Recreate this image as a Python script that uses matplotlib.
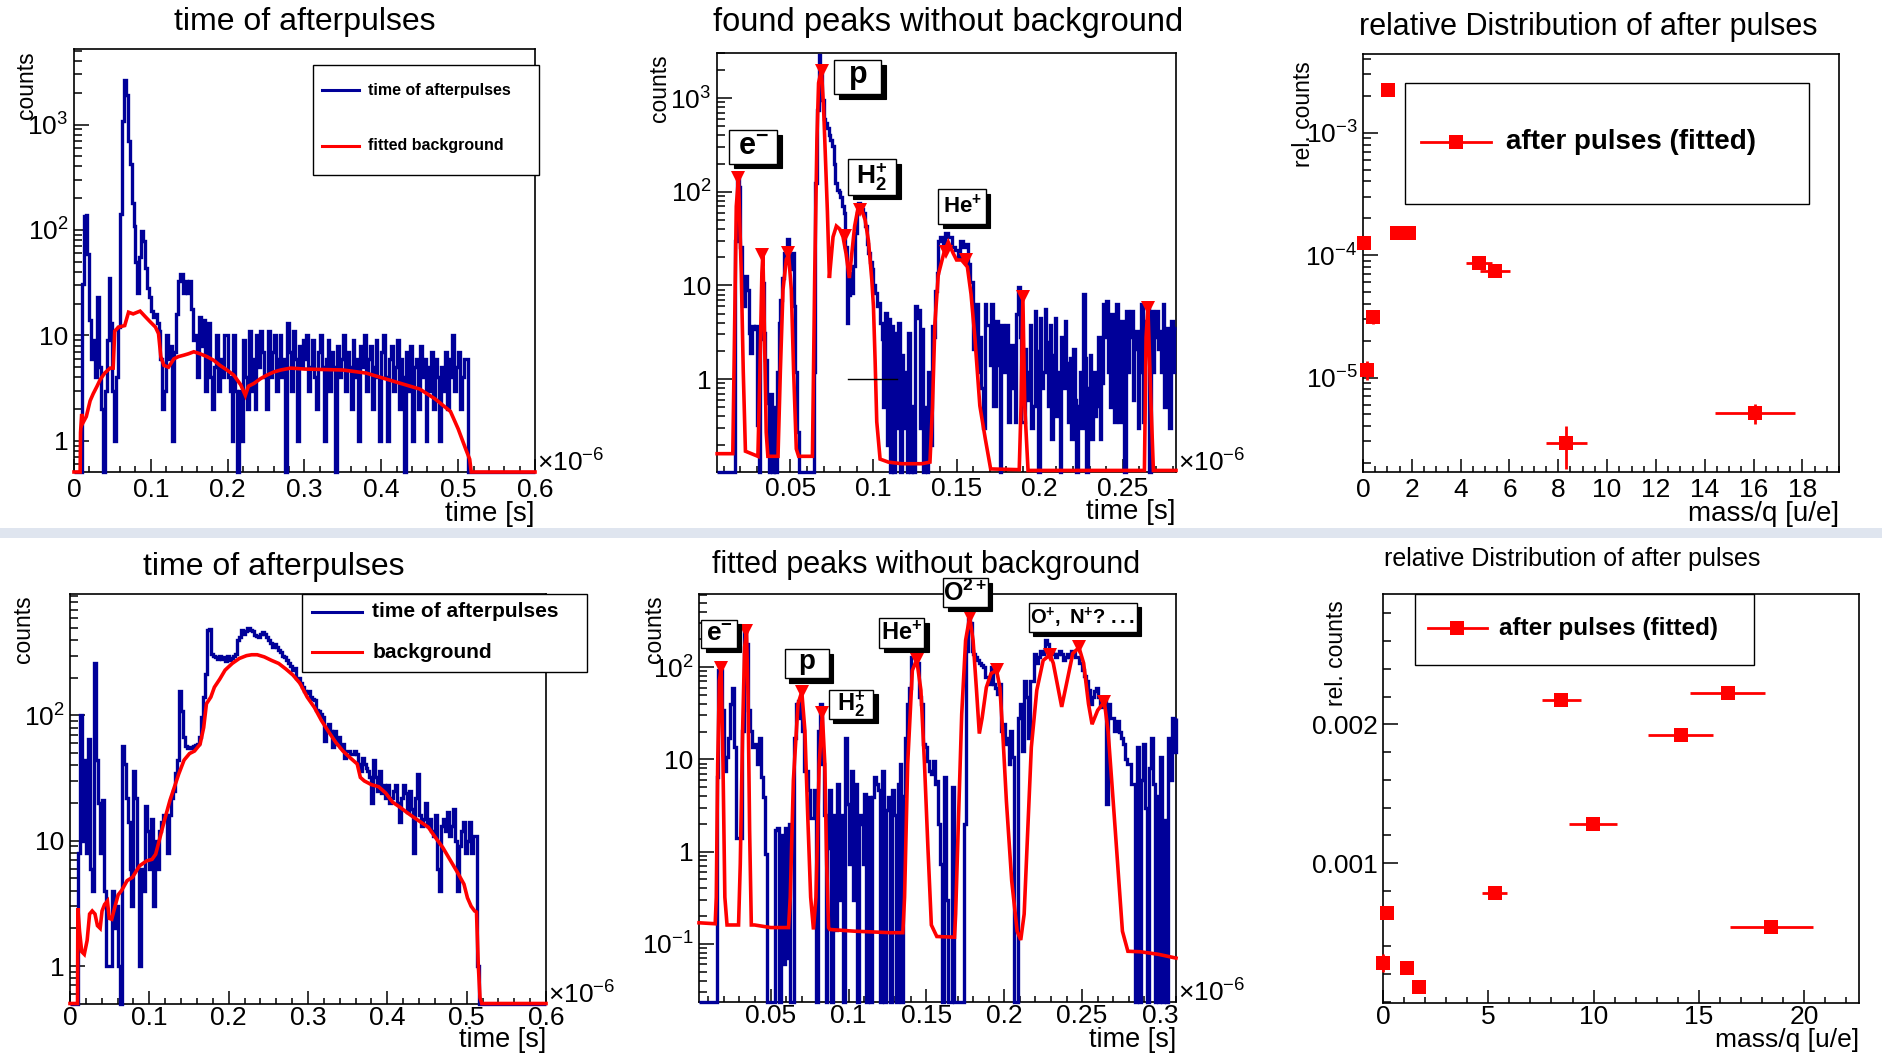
import numpy as np
import matplotlib
matplotlib.use("Agg")
import matplotlib.pyplot as plt
from matplotlib.patches import Rectangle
from matplotlib.lines import Line2D
from matplotlib.ticker import (FuncFormatter, LogLocator, MultipleLocator,
                               FixedLocator, NullFormatter)

plt.rcParams["font.family"] = ["Liberation Sans", "DejaVu Sans"]
plt.rcParams["mathtext.fontset"] = "custom"
plt.rcParams["mathtext.rm"] = "Liberation Sans"
plt.rcParams["mathtext.it"] = "Liberation Sans:italic"
plt.rcParams["mathtext.bf"] = "Liberation Sans:bold"

HIST_BLUE = "#000099"
FIT_RED = "#ff0000"

# ---------------------------------------------------------------- data
# Run A: arrival time of afterpulses, time in units of 1e-6 s, 0.0025 wide bins from 0
runA_t0, runA_dt = 0.0, 0.0025
runA_counts = [
    0, 0, 0, 0, 31, 136, 140, 59, 14, 6,
    9, 4, 23, 5, 2, 0, 3, 9, 35, 13,
    3, 1, 4, 12, 141, 1080, 2670, 1900, 700, 420,
    180, 110, 50, 25, 55, 98, 79, 44, 28, 23,
    17, 15, 16, 13, 11, 6, 2, 3, 10, 6,
    8, 1, 7, 16, 33, 38, 38, 25, 33, 25,
    33, 18, 9, 10, 4, 15, 8, 14, 3, 9,
    13, 4, 2, 5, 10, 3, 6, 4, 10, 10,
    4, 3, 1, 10, 3, 0, 3, 1, 9, 4,
    2, 11, 3, 6, 2, 10, 5, 11, 7, 4,
    2, 11, 4, 7, 10, 3, 6, 10, 4, 6,
    0, 13, 7, 3, 11, 6, 1, 8, 5, 9,
    6, 10, 3, 5, 9, 4, 2, 7, 10, 5,
    1, 6, 9, 3, 7, 5, 0, 8, 4, 6,
    10, 3, 7, 5, 2, 9, 4, 6, 1, 8,
    5, 10, 3, 6, 8, 2, 5, 9, 4, 1,
    7, 10, 4, 1, 6, 8, 3, 5, 9, 2,
    6, 4, 0, 7, 3, 8, 1, 5, 6, 2,
    8, 4, 6, 1, 5, 3, 7, 2, 6, 4,
    1, 5, 3, 7, 2, 6, 4, 10, 3, 5,
    7, 2, 4, 6, 6, 0,
]
runA_bkg_t = [0.0, 0.008, 0.0085, 0.010, 0.012, 0.016, 0.021, 0.025, 0.030, 0.034,
              0.040, 0.047, 0.051, 0.053, 0.058, 0.066, 0.071, 0.077, 0.086, 0.093,
              0.099, 0.106, 0.110, 0.113, 0.117, 0.123, 0.130, 0.136, 0.143, 0.149,
              0.156, 0.164, 0.173, 0.182, 0.190, 0.199, 0.208, 0.217, 0.223, 0.227,
              0.234, 0.243, 0.251, 0.260, 0.269, 0.282, 0.300, 0.350, 0.380, 0.420,
              0.450, 0.470, 0.490, 0.500, 0.510, 0.515, 0.517, 0.600]
runA_bkg = [0, 0, 1.2, 1.8, 1.5, 1.7, 2.4, 2.8, 3.3, 3.8,
            4.4, 4.9, 4.9, 11, 12, 12.4, 16.6, 16, 17, 15,
            13.5, 12, 10.4, 6.3, 5.2, 5.0, 6.0, 6.3, 6.5, 6.7,
            7.0, 6.7, 6.3, 5.8, 5.2, 4.7, 4.2, 3.4, 2.7, 3.3,
            3.5, 3.9, 4.2, 4.5, 4.7, 4.9, 4.8, 4.7, 4.4, 3.6,
            3.1, 2.5, 1.9, 1.3, 0.83, 0.67, 0, 0]

# Run A: peaks after background subtraction, 0.001 wide bins from 0.006
runA_sig_t0, runA_sig_dt = 0.006, 0.001
runA_signal = [
    0, 0, 0, 0, 0, 0, 0, 0, 0, 0,
    0, 30, 150, 113, 26, 6, 6, 12.6, 9, 3.1,
    1.9, 3.7, 3.4, 3.7, 0.32, 0, 2.7, 10.6, 3.1, 1.6,
    0.56, 0, 0.7, 0, 0.5, 0, 1.2, 4, 7, 12,
    22, 18, 31, 19, 15, 22, 6, 1.2, 0.27, 0,
    0, 0, 0, 0, 0, 0, 0, 0, 1.2, 123,
    740, 2900, 1800, 950, 600, 540, 480, 400, 360, 305,
    200, 123, 105, 100, 89, 70, 59, 26, 4, 8,
    13.5, 8.4, 16, 36, 60, 76, 70, 65, 59, 43,
    28, 22, 18, 15, 10, 8.4, 6, 6.5, 4, 2.7,
    0.5, 5.1, 0.2, 4.4, 0, 3.7, 0, 3.1, 0.3, 4,
    0, 1.8, 0.3, 1.2, 0, 3.1, 0, 0.52, 0, 6,
    4.5, 5.5, 0.3, 3.4, 0, 0.5, 0, 1.2, 0.2, 3.7,
    2.8, 8.8, 13.6, 30, 33, 33, 28, 36, 36, 33,
    33, 26, 26, 24, 24, 20, 30, 30, 26, 28,
    28, 17, 11, 11, 2.1, 6.3, 6.3, 1.2, 2.8, 0.8,
    0.3, 6.3, 3.8, 3.8, 1.4, 6.3, 0.52, 0.52, 4.2, 1.4,
    0, 3.8, 1.2, 2.3, 3.8, 0.35, 1.2, 2.3, 0.8, 0.35,
    5, 9.6, 2.8, 0.35, 0.35, 2.1, 0.6, 1.2, 3.8, 0.3,
    0.52, 5.4, 2, 0, 4.5, 0.8, 1.2, 5.6, 2.5, 0.52,
    3.8, 0.23, 1.8, 4.5, 0.4, 1.2, 0, 2.8, 0.8, 4.2,
    1.5, 0.35, 1.7, 0.23, 2.1, 0.6, 0, 0.52, 1.2, 0.3,
    8.1, 1.7, 0, 0.8, 1.8, 0.23, 1.2, 0.4, 0.52, 2.8,
    0.23, 0.9, 6.3, 2.8, 6.9, 1.2, 0.5, 4.9, 1.2, 0.35,
    6.3, 2, 0.35, 4.2, 2.8, 0, 5.4, 1.2, 2.8, 5.4,
    0.6, 2.1, 3.3, 0.3, 1.2, 6.3, 0.35, 4.2, 2.8, 6,
    0, 5.4, 1.2, 2.8, 5.4, 2.1, 3.3, 1.2, 6.3, 0.5,
    3.5, 2.1, 0.3, 4.2, 1.2, 3.5,
]
runA_fit_t = [0.006, 0.0154, 0.0164, 0.0175, 0.0188, 0.0205, 0.0217, 0.023, 0.0305, 0.0317,
              0.0329, 0.0335, 0.0345, 0.0355, 0.0365, 0.0426, 0.044, 0.0456, 0.0476, 0.049,
              0.0506, 0.052, 0.0536, 0.055, 0.0633, 0.0647, 0.066, 0.067, 0.0687, 0.070,
              0.0711, 0.0723, 0.0735, 0.0745, 0.0757, 0.0777, 0.0797, 0.0817, 0.0835, 0.0855,
              0.0870, 0.0887, 0.0908, 0.0925, 0.095, 0.097, 0.099, 0.100, 0.101, 0.102,
              0.104, 0.109, 0.117, 0.129, 0.134, 0.1355, 0.137, 0.139, 0.1426, 0.145,
              0.148, 0.150, 0.153, 0.1565, 0.1587, 0.161, 0.164, 0.1673, 0.1705, 0.1877,
              0.1888, 0.1899, 0.191, 0.193, 0.263, 0.264, 0.2651, 0.267, 0.2684, 0.282]
runA_fit = [0.16, 0.16, 2.7, 70, 140, 13.6, 1.2, 0.17, 0.15, 1.2,
            13.6, 22, 2.7, 0.27, 0.15, 0.15, 1.2, 9, 19, 21,
            9, 1.2, 0.18, 0.15, 0.15, 13.6, 360, 1450, 2000, 800,
            237, 62, 12, 19, 33, 43, 40, 33, 22, 12,
            22, 43, 68, 68, 50, 30, 11.6, 6, 1.6, 0.35,
            0.14, 0.13, 0.125, 0.125, 0.13, 0.5, 4, 13, 23, 29,
            22, 18.7, 18.7, 15.8, 8.1, 2.8, 0.52, 0.23, 0.11, 0.108,
            0.52, 7.5, 0.52, 0.106, 0.106, 2.8, 5.8, 0.52, 0.106, 0.106]
runA_peak_t = [0.0187, 0.0327, 0.0484, 0.0689, 0.0829, 0.0922, 0.1436, 0.1555, 0.1899, 0.265]
runA_peak_h = [140, 21, 22, 1950, 34, 64, 23, 18.6, 7.5, 5.8]

# Run A: relative afterpulse yield versus mass over charge
runA_mq = [1.04, 1.38, 1.87, 0.03, 4.75, 5.42, 0.39, 0.15, 8.33, 16.05]
runA_rel = [2.24e-3, 1.53e-4, 1.53e-4, 1.26e-4, 8.7e-5, 7.36e-5, 3.14e-5, 1.16e-5, 2.89e-6, 5.13e-6]
runA_mq_err = [0, 0, 0, 0, 0.54, 0.62, 0.1, 0.05, 0.84, 1.64]
runA_rel_err = [0, 0, 0, 0, 0, 0, 0.41e-5, 0.21e-5, 1.1e-6, 0.97e-6]

# Run B: arrival time of afterpulses, 0.0025 wide bins from 0
runB_t0, runB_dt = 0.0, 0.0025
runB_counts = [
    0, 0, 0, 0, 8, 100, 10, 44, 8, 65,
    6, 4, 260, 44, 20, 8, 21, 4, 1, 1,
    1, 4, 2, 3, 1, 0, 57, 41, 22, 14,
    6, 3, 36, 22, 6, 1, 6, 4, 19, 12,
    6, 15, 3, 10, 6, 12, 14, 16, 16, 8,
    16, 22, 25, 35, 44, 158, 109, 67, 57, 55,
    56, 55, 57, 58, 59, 67, 97, 140, 215, 480,
    490, 310, 300, 290, 280, 300, 280, 290, 270, 300,
    275, 285, 300, 310, 400, 420, 480, 450, 470, 500,
    500, 480, 470, 440, 430, 420, 450, 460, 450, 420,
    400, 380, 350, 370, 350, 330, 320, 300, 290, 275,
    260, 250, 230, 240, 200, 200, 180, 170, 158, 150,
    158, 140, 135, 132, 110, 108, 103, 97, 63, 75,
    86, 75, 56, 75, 59, 67, 56, 59, 46, 52,
    52, 49, 49, 52, 49, 41, 36, 46, 41, 38,
    36, 32, 20, 44, 32, 25, 36, 24, 28, 22,
    28, 20, 22, 25, 28, 20, 14, 22, 28, 24,
    17, 25, 18, 8, 22, 34, 16, 13, 15, 20,
    13, 15, 12, 11, 16, 6, 4, 13, 15, 12,
    17, 11, 13, 18, 10, 4, 9, 12, 14, 8,
    10, 14, 8, 11, 11, 1,
]
runB_bkg_t = [0.0, 0.0095, 0.0099, 0.012, 0.0148, 0.018, 0.0216, 0.0247, 0.028, 0.0315,
              0.0346, 0.038, 0.0404, 0.0436, 0.0472, 0.0494, 0.0526, 0.0562, 0.0607, 0.065,
              0.072, 0.0787, 0.0876, 0.0966, 0.1034, 0.108, 0.1124, 0.119, 0.126, 0.1326,
              0.137, 0.1438, 0.1506, 0.157, 0.164, 0.1685, 0.172, 0.1775, 0.182, 0.1888,
              0.1955, 0.2045, 0.2135, 0.2225, 0.229, 0.236, 0.245, 0.254, 0.263, 0.272,
              0.281, 0.29, 0.299, 0.308, 0.317, 0.326, 0.335, 0.344, 0.353, 0.362,
              0.366, 0.371, 0.38, 0.389, 0.398, 0.4067, 0.416, 0.4247, 0.4337, 0.4427,
              0.4517, 0.4607, 0.47, 0.4787, 0.4876, 0.4966, 0.501, 0.5056, 0.51, 0.5124,
              0.5146, 0.5168, 0.519, 0.6]
runB_bkg = [0, 0, 2.9, 1.9, 1.3, 1.24, 1.6, 2.6, 2.75, 2.6,
            2.1, 2.0, 2.75, 3.1, 3.3, 2.4, 2.36, 2.9, 3.7, 4.0,
            4.8, 5.1, 6.3, 6.9, 7.1, 7.8, 10, 14.5, 21, 28,
            34, 44, 49.6, 52, 59, 80, 124, 140, 168, 195,
            230, 260, 285, 300, 305, 305, 293, 275, 260, 235,
            210, 180, 140, 116, 91, 74, 61, 52, 46, 41,
            32, 30, 28, 27, 24, 20.3, 18.5, 16.8, 15.3, 14,
            12.8, 10.6, 8.8, 7.1, 5.7, 4.5, 3.5, 3.0, 2.75, 2.7,
            1.03, 0.56, 0, 0]

# Run B: peaks after background subtraction, 0.00125 wide bins from 0.004
runB_sig_t0, runB_sig_dt = 0.004, 0.00125
runB_signal = [
    0, 0, 0, 0, 0, 0, 0, 0, 0, 6.4,
    92, 92, 34, 7.5, 10.5, 17, 40, 60, 13.5, 1.4,
    1.4, 1.4, 20.5, 250, 180, 34, 20.5, 13.5, 13.5, 14.6,
    8.9, 17, 6.4, 3.9, 0.94, 0, 0, 0, 0, 1.7,
    1.8, 0, 1.5, 0.06, 1.8, 0.07, 2.0, 0, 0, 17,
    40, 43, 28, 20.5, 7.5, 7.5, 4.6, 2.3, 2.3, 4.6,
    0, 20.5, 40, 8.9, 2.5, 0, 1.1, 4.6, 0, 2.5,
    0.14, 5.4, 0.3, 2.5, 0, 17, 3.3, 0.73, 7.5, 0.3,
    5.4, 0, 2.5, 2.0, 0.73, 4.2, 0, 3.9, 0, 3.9,
    6.4, 5.4, 4.6, 0, 7.5, 0, 2.8, 3.9, 0, 4.6,
    2.5, 0, 5.4, 8.9, 0, 4, 17, 40, 60, 128,
    128, 128, 110, 47, 40, 14.6, 13.5, 9.7, 7.5, 6.9,
    9.7, 5.4, 5.8, 2.0, 0.73, 0, 6.4, 0.3, 0, 0,
    5, 0, 0, 0, 0, 0, 2.0, 150, 330, 300,
    150, 140, 128, 120, 110, 105, 99, 78, 78, 66,
    99, 66, 60, 51, 66, 20.5, 24, 14.6, 17, 8.9,
    20.5, 10.5, 0, 0, 28, 40, 12.4, 71, 47, 17,
    71, 71, 139, 110, 128, 150, 139, 150, 195, 180,
    150, 150, 139, 128, 139, 150, 139, 120, 128, 139,
    128, 150, 150, 128, 128, 110, 110, 92, 80, 71,
    56, 40, 47, 55, 60, 47, 37, 47, 47, 3.3,
    40, 28, 28, 20.5, 26, 26, 20, 17, 14.6, 10,
    8.9, 8.9, 5.4, 5.4, 0, 13.5, 0, 6, 14.6, 3,
    0, 8, 17, 5.4, 0, 4, 0, 10.5, 0, 2.2,
    0, 17, 6, 28, 12, 28,
]
runB_fit_t = [0.004, 0.0144, 0.0151, 0.0160, 0.0171, 0.0182, 0.0194, 0.0206, 0.022, 0.0294,
              0.0305, 0.0320, 0.0333, 0.0345, 0.0355, 0.0365, 0.0376, 0.0397, 0.05, 0.0615,
              0.0626, 0.0646, 0.0676, 0.0700, 0.0720, 0.0738, 0.0757, 0.0775, 0.0791, 0.0812,
              0.0832, 0.0848, 0.0860, 0.0872, 0.088, 0.1039, 0.1268, 0.1349, 0.136, 0.138,
              0.141, 0.1438, 0.1465, 0.1488, 0.151, 0.1532, 0.1567, 0.1681, 0.1688, 0.1704,
              0.1727, 0.1752, 0.1778, 0.180, 0.1822, 0.1840, 0.1858, 0.1885, 0.1915, 0.1951,
              0.1972, 0.1990, 0.2014, 0.2048, 0.2083, 0.2106, 0.2128, 0.2151, 0.2174, 0.2209,
              0.2250, 0.2294, 0.2315, 0.2345, 0.2369, 0.2404, 0.2440, 0.248, 0.2510, 0.2541,
              0.2564, 0.2600, 0.2643, 0.2667, 0.269, 0.2713, 0.2736, 0.2759, 0.2794, 0.2874,
              0.2989, 0.3103]
runB_fit = [0.169, 0.165, 0.32, 8.9, 71, 98, 8.9, 0.32, 0.16, 0.16,
            0.73, 20.5, 165, 245, 47, 1.7, 0.16, 0.16, 0.15, 0.15,
            0.32, 5.9, 40, 54, 20.5, 2.5, 0.32, 0.143, 0.32, 8.9,
            31, 8.9, 0.73, 0.15, 0.143, 0.137, 0.132, 0.132, 0.32, 8.9,
            92, 120, 56, 8.9, 1.1, 0.16, 0.12, 0.118, 0.21, 1.7,
            31, 195, 348, 195, 56, 19, 28, 60, 85, 92,
            60, 20, 3.5, 0.48, 0.137, 0.11, 0.21, 1.7, 13.5, 56,
            118, 136, 110, 60, 37, 71, 140, 163, 110, 40,
            24, 34, 42, 20, 5.9, 1.7, 0.48, 0.137, 0.083, 0.082,
            0.077, 0.07]
runB_peak_t = [0.0182, 0.0345, 0.070, 0.0832, 0.1438, 0.1778, 0.1951, 0.2294, 0.248, 0.2643]
runB_peak_h = [98, 245, 54, 31.5, 120, 348, 92, 136, 163, 42]

# Run B: relative afterpulse yield versus mass over charge
runB_mq = [8.47, 16.36, 14.13, 9.96, 5.31, 0.18, 18.44, 0.0, 1.13, 1.70]
runB_rel = [0.002178, 0.002224, 0.001925, 0.00128, 0.000783, 0.000643, 0.000542, 0.00028, 0.000246, 0.000106]
runB_mq_err = [0.93, 1.78, 1.56, 1.14, 0.6, 0, 1.96, 0, 0, 0]
runB_rel_err = [0, 0, 0, 0, 0, 0, 0, 0.000065, 0, 0]

# ---------------------------------------------------------------- figure
W, H = 1883, 1054
fig = plt.figure(figsize=(W / 100, H / 100), dpi=100)
fig.patch.set_facecolor("white")
# separator band between the two canvases
fig.patches.append(Rectangle((0, 1 - 538 / H), 1, 10 / H, transform=fig.transFigure,
                             facecolor="#dfe5ef", edgecolor="none", zorder=0))

BLUE_LW = 2.4
RED_LW = 2.6


def make_axes(l, t, r, b):
    ax = fig.add_axes([l / W, 1 - b / H, (r - l) / W, (b - t) / H])
    ax._px = (l, t, r, b)
    return ax


def root_style(ax, xpad=4):
    ax.tick_params(axis="both", which="both", direction="in", top=False, right=False,
                   labelsize=19, width=1.1)
    ax.tick_params(axis="x", which="major", length=9.5, pad=xpad)
    ax.tick_params(axis="x", which="minor", length=4.5)
    ax.tick_params(axis="y", which="major", length=11, pad=4)
    ax.tick_params(axis="y", which="minor", length=6)
    for s in ax.spines.values():
        s.set_linewidth(1.2)


def decade_label(v, pos):
    e = int(round(np.log10(v)))
    if e == 0:
        return "1"
    if e == 1:
        return "10"
    return r"$\mathdefault{10^{%d}}$" % e


def plain_label(v, pos):
    return "%g" % round(v, 6)


def log_y(ax, lo, hi):
    ax.set_yscale("log")
    ax.set_ylim(lo, hi)
    ax.yaxis.set_major_locator(LogLocator(base=10, numticks=30))
    ax.yaxis.set_minor_locator(LogLocator(base=10, subs=np.arange(2, 10), numticks=30))
    ax.yaxis.set_major_formatter(FuncFormatter(decade_label))
    ax.yaxis.set_minor_formatter(NullFormatter())


def lin_x(ax, lo, hi, major, minor):
    ax.set_xlim(lo, hi)
    ax.xaxis.set_major_locator(MultipleLocator(major))
    ax.xaxis.set_minor_locator(MultipleLocator(minor))
    ax.xaxis.set_major_formatter(FuncFormatter(plain_label))


def draw_hist(ax, x0, dx, vals, color, lw, xmax):
    lo = ax.get_ylim()[0]
    v = np.asarray(vals, float)
    n_total = int(round((xmax - x0) / dx + 0.4999))
    if len(v) < n_total:
        v = np.concatenate([v, np.zeros(n_total - len(v))])
    v = np.clip(v, lo, None)
    edges = np.minimum(x0 + dx * np.arange(len(v) + 1), xmax)
    ax.stairs(v, edges, baseline=None, color=color, lw=lw, clip_on=False, zorder=3)


def draw_curve(ax, x, y, color, lw):
    lo = ax.get_ylim()[0]
    ax.plot(x, np.clip(np.asarray(y, float), lo, None), color=color, lw=lw,
            clip_on=False, zorder=4, solid_joinstyle="miter")


def fig_text(xp, yp, s, **kw):
    fig.text(xp / W, 1 - yp / H, s, **kw)


def axis_titles(ax, xlabel, xlab_y, ylabel, ylab_x, ylab_top, xfs=20):
    l, t, r, b = ax._px
    fig_text(r, xlab_y, xlabel, ha="right", va="center", fontsize=xfs)
    fig_text(ylab_x, ylab_top, ylabel, ha="center", va="top", rotation=90, fontsize=16.5)


def exponent_note(ax):
    l, t, r, b = ax._px
    ax.text(1 + 2.5 / (r - l), 0.0, r"$\times$10$^{-6}$", transform=ax.transAxes,
            ha="left", va="baseline", fontsize=19, clip_on=False)


def tag(ax, x0, y0, x1, y1, text, fs):
    l, t, r, b = ax._px
    dx, dy = 4.5 / (r - l), 4.5 / (b - t)
    ax.add_patch(Rectangle((x0 + dx, y0 - dy), x1 - x0, y1 - y0, transform=ax.transAxes,
                           facecolor="black", edgecolor="black", lw=0.8,
                           clip_on=False, zorder=6))
    ax.add_patch(Rectangle((x0, y0), x1 - x0, y1 - y0, transform=ax.transAxes,
                           facecolor="white", edgecolor="black", lw=1.0,
                           clip_on=False, zorder=7))
    ax.text((x0 + x1) / 2, (y0 + y1) / 2, text, transform=ax.transAxes, ha="center",
            va="center", fontsize=fs, fontweight="bold", zorder=8, clip_on=False)


def legend_box(ax, x0, y0, x1, y1):
    ax.add_patch(Rectangle((x0, y0), x1 - x0, y1 - y0, transform=ax.transAxes,
                           facecolor="white", edgecolor="black", lw=1.0,
                           clip_on=False, zorder=9))


def legend_line(ax, xa, xb, y, color, lw, text, xt, fs, marker=None, xm=None):
    ax.add_line(Line2D([xa, xb], [y, y], transform=ax.transAxes, color=color, lw=lw,
                       clip_on=False, zorder=10))
    if marker:
        ax.add_line(Line2D([xm], [y], transform=ax.transAxes, color=color, marker=marker,
                           ms=10.5, mew=0, ls="none", clip_on=False, zorder=11))
    ax.text(xt, y, text, transform=ax.transAxes, ha="left", va="center", fontsize=fs,
            fontweight="bold", zorder=11, clip_on=False)


def yield_points(ax, x, y, xe, ye):
    cont = ax.errorbar(x, y, xerr=xe, yerr=ye, fmt="s", color=FIT_RED, ms=10.5, mew=0,
                       elinewidth=2.0, capsize=2.5, capthick=2.0, zorder=5)
    for art in cont.get_children():
        art.set_clip_on(False)


# ---------------- top left: arrival times, run A
ax = make_axes(74, 49, 535, 472)
root_style(ax)
log_y(ax, 0.507, 5200)
lin_x(ax, 0, 0.6, 0.1, 0.02)
draw_hist(ax, runA_t0, runA_dt, runA_counts, HIST_BLUE, BLUE_LW, 0.6)
draw_curve(ax, runA_bkg_t, runA_bkg, FIT_RED, RED_LW)
exponent_note(ax)
legend_box(ax, 0.518, 0.703, 1.008, 0.962)
legend_line(ax, 0.537, 0.619, 0.902, HIST_BLUE, 2.2, "time of afterpulses", 0.638, 11.5)
legend_line(ax, 0.537, 0.619, 0.771, FIT_RED, 2.2, "fitted background", 0.638, 11.5)
axis_titles(ax, "time [s]", 514, "counts", 27, 51)
fig_text(305, 22, "time of afterpulses", ha="center", va="center", fontsize=23)

# ---------------- top middle: found peaks, run A
ax = make_axes(717, 53, 1176, 471.6)
root_style(ax)
log_y(ax, 0.103, 3030)
lin_x(ax, 0.0059, 0.282, 0.05, 0.01)
draw_hist(ax, runA_sig_t0, runA_sig_dt, runA_signal, HIST_BLUE, BLUE_LW, 0.282)
draw_curve(ax, runA_fit_t, runA_fit, FIT_RED, RED_LW)
ax.plot(runA_peak_t, runA_peak_h, "v", color=FIT_RED, ms=9.5, mew=0, zorder=5, clip_on=False)
ax.plot([0.0845, 0.114], [1, 1], color="black", lw=1.0, zorder=4)
exponent_note(ax)
tag(ax, 0.027, 0.735, 0.131, 0.816, r"$\mathbf{e^{-}}$", 22)
tag(ax, 0.255, 0.901, 0.358, 0.983, r"$\mathbf{p}$", 22)
tag(ax, 0.286, 0.661, 0.390, 0.746, r"$\mathbf{H_{2}^{+}}$", 19)
tag(ax, 0.482, 0.592, 0.586, 0.674, r"$\mathbf{He^{+}}$", 16)
axis_titles(ax, "time [s]", 512, "counts", 660, 54)
fig_text(948, 22, "found peaks without background", ha="center", va="center", fontsize=23.5)

# ---------------- top right: relative yield, run A
ax = make_axes(1363, 54, 1839, 472)
root_style(ax)
log_y(ax, 1.69e-6, 4.4e-3)
lin_x(ax, 0, 19.5, 2, 0.5)
yield_points(ax, runA_mq, runA_rel, runA_mq_err, runA_rel_err)
legend_box(ax, 0.089, 0.640, 0.936, 0.931)
legend_line(ax, 0.122, 0.268, 0.790, FIT_RED, 2.0, "after pulses (fitted)", 0.301, 20,
            marker="s", xm=0.195)
axis_titles(ax, "mass/q [u/e]", 514, "rel. counts", 1304, 61)
fig_text(1588, 27, "relative Distribution of after pulses", ha="center", va="center",
         fontsize=22)

# ---------------- bottom left: arrival times, run B
ax = make_axes(70, 593.5, 546, 1003.5)
root_style(ax, xpad=1.5)
log_y(ax, 0.502, 940)
lin_x(ax, 0, 0.6, 0.1, 0.02)
draw_hist(ax, runB_t0, runB_dt, runB_counts, HIST_BLUE, BLUE_LW, 0.6)
draw_curve(ax, runB_bkg_t, runB_bkg, FIT_RED, RED_LW)
exponent_note(ax)
legend_box(ax, 0.487, 0.808, 1.086, 0.998)
legend_line(ax, 0.509, 0.614, 0.955, HIST_BLUE, 2.2, "time of afterpulses", 0.635, 15)
legend_line(ax, 0.509, 0.614, 0.857, FIT_RED, 2.2, "background", 0.635, 15)
axis_titles(ax, "time [s]", 1040, "counts", 24, 595, xfs=19.5)
fig_text(274, 567, "time of afterpulses", ha="center", va="center", fontsize=23)

# ---------------- bottom middle: fitted peaks, run B
ax = make_axes(699, 593.5, 1176, 1002)
root_style(ax, xpad=1.5)
log_y(ax, 0.0234, 627)
lin_x(ax, 0.004, 0.3103, 0.05, 0.01)
draw_hist(ax, runB_sig_t0, runB_sig_dt, runB_signal, HIST_BLUE, BLUE_LW, 0.3103)
draw_curve(ax, runB_fit_t, runB_fit, FIT_RED, RED_LW)
ax.plot(runB_peak_t, runB_peak_h, "v", color=FIT_RED, ms=9.5, mew=0, zorder=5, clip_on=False)
exponent_note(ax)
tag(ax, 0.005, 0.867, 0.079, 0.936, r"$\mathbf{e^{-}}$", 19)
tag(ax, 0.180, 0.793, 0.272, 0.863, r"$\mathbf{p}$", 20)
tag(ax, 0.272, 0.693, 0.365, 0.764, r"$\mathbf{H_{2}^{+}}$", 17)
tag(ax, 0.378, 0.867, 0.472, 0.939, r"$\mathbf{He^{+}}$", 17)
tag(ax, 0.512, 0.967, 0.605, 1.037, r"$\mathbf{O^{2+}}$", 18)
tag(ax, 0.691, 0.906, 0.918, 0.977, r"$\mathbf{O^{+},\ N^{+}?\ ...}$", 14.5)
axis_titles(ax, "time [s]", 1040, "counts", 655, 595, xfs=19.5)
fig_text(926, 565, "fitted peaks without background", ha="center", va="center", fontsize=22)

# ---------------- bottom right: relative yield, run B
ax = make_axes(1383, 594, 1859, 1003)
root_style(ax, xpad=1.5)
ax.set_ylim(-0.0000072, 0.00294)
ax.yaxis.set_major_locator(FixedLocator([0.001, 0.002]))
ax.yaxis.set_minor_locator(MultipleLocator(0.0002))
ax.yaxis.set_major_formatter(FuncFormatter(plain_label))
lin_x(ax, 0, 22.6, 5, 1)
yield_points(ax, runB_mq, runB_rel, runB_mq_err, runB_rel_err)
legend_box(ax, 0.067, 0.826, 0.779, 1.0)
legend_line(ax, 0.095, 0.218, 0.916, FIT_RED, 2.0, "after pulses (fitted)", 0.244, 17.5,
            marker="s", xm=0.156)
axis_titles(ax, "mass/q [u/e]", 1040, "rel. counts", 1337, 600, xfs=19)
fig_text(1572, 559, "relative Distribution of after pulses", ha="center", va="center",
         fontsize=18)

fig.savefig("out.png", dpi=100)
